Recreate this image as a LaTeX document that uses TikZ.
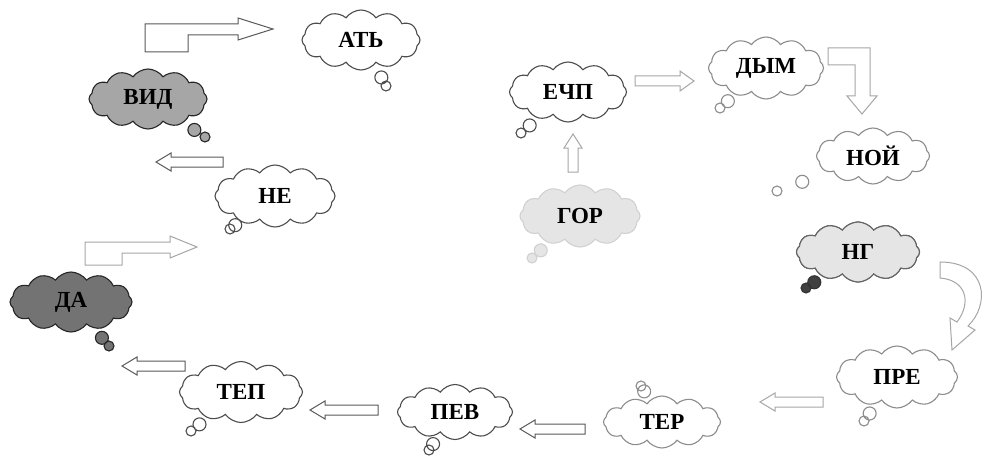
\documentclass[tikz,border=0pt]{standalone}
\usepackage{fontspec}
\setmainfont{Liberation Serif}
\usetikzlibrary{shapes.callouts,shapes.symbols}
\tikzset{
  cloudnode/.style={cloud callout, cloud puffs=12, cloud puff arc=110, aspect=2,
    draw=black!70, line width=1.1pt, fill=white, inner sep=0pt,
    font=\fontsize{23}{26}\selectfont\bfseries, text=black,
    callout pointer segments=2, callout pointer start size=26pt and 16pt, callout pointer end size=15pt and 10pt,
    minimum width=118pt, minimum height=60pt},
  plaincloud/.style={cloud, cloud puffs=12, cloud puff arc=110, aspect=2,
    line width=1.1pt, inner sep=0pt, font=\fontsize{23}{26}\selectfont\bfseries, text=black},
  faint/.style={draw=black!45},
  barrow/.style={draw=black!65, line width=1pt, fill=white, line join=miter},
  barrowfaint/.style={barrow, draw=black!35}
}
\newcommand{\leftblock}[4][barrow]{%
  \draw[#1] ({#3},{#4-5}) -- ({#2+15},{#4-5}) -- ({#2+15},{#4-9}) -- ({#2},{#4}) --
    ({#2+15},{#4+9}) -- ({#2+15},{#4+5}) -- ({#3},{#4+5}) -- cycle;}
\begin{document}
\begin{tikzpicture}[x=1pt,y=-1pt]
\useasboundingbox (0,0) rectangle (986,460);
\fill[white] (0,0) rectangle (986,460);

% clouds
\node[cloudnode, callout absolute pointer={(386,86)}] (atj) at (361,40) {АТЬ};
\node[cloudnode, fill=black!35, draw=black!85, callout absolute pointer={(205,137)}] (vid) at (148,99) {ВИД};
\node[cloudnode, minimum width=120pt, minimum height=62pt, callout absolute pointer={(230,229)}] (ne) at (275,196) {НЕ};
\node[cloudnode, fill=black!55, draw=black!85, minimum width=122pt, callout absolute pointer={(109,346)}] (da) at (71,302) {ДА};
\node[cloudnode, minimum width=123pt, minimum height=61pt, callout absolute pointer={(191,431)}] (tep) at (241,392) {ТЕП};
\node[cloudnode, minimum width=115pt, minimum height=55pt, callout absolute pointer={(429,450)}] (pev) at (455,412) {ПЕВ};
\node[cloudnode, faint, minimum width=117pt, minimum height=52pt, callout absolute pointer={(641,386)}] (ter) at (662,422) {ТЕР};
\node[cloudnode, faint, minimum width=121pt, minimum height=62pt, callout absolute pointer={(864,421)}] (pre) at (897,377) {ПРЕ};
\node[cloudnode, fill=black!75, draw=black!80, minimum width=123pt, callout absolute pointer={(806,288)}] (ngtail) at (858,252) {};
\node[plaincloud, fill=black!10, draw=black!60, minimum width=123pt, minimum height=60pt] (ng) at (858,252) {НГ};
\node[cloudnode, faint, minimum width=113pt, minimum height=56pt, callout absolute pointer={(777,191)}] (noj) at (873,156) {НОЙ};
\node[cloudnode, faint, minimum width=115pt, minimum height=62pt, callout absolute pointer={(720,108)}] (dym) at (766,68) {ДЫМ};
\node[cloudnode, minimum width=117pt, callout absolute pointer={(521,133)}] (echp) at (568,92) {ЕЧП};
\node[cloudnode, fill=black!10, draw=black!18, minimum width=120pt, minimum height=62pt, callout absolute pointer={(532,258)}] (gor) at (580,216) {ГОР};

% bent arrow VID -> ATJ
\draw[barrow] (145,52) -- (188,52) -- (188,35) -- (238,35) -- (238,40) -- (273,29) --
  (238,18) -- (238,24) -- (145,24) -- cycle;
% bent arrow DA -> NE
\draw[barrowfaint] (85,265) -- (122,265) -- (122,253) -- (170,253) -- (170,258) -- (197,247) --
  (170,236) -- (170,242) -- (85,242) -- cycle;
% straight left arrows
\leftblock{156}{223}{162}
\leftblock{122}{185}{366}
\leftblock{310}{378}{410}
\leftblock{520}{585}{429}
\leftblock[barrowfaint]{760}{823}{402}
% ECHP -> DYM
\draw[barrowfaint] (635,76) -- (680,76) -- (680,71) -- (694,81) -- (680,91) -- (680,86) -- (635,86) -- cycle;
% GOR -> ECHP
\draw[barrowfaint] (568,172) -- (568,148) -- (564,148) -- (573,134) -- (582,148) -- (578,148) -- (578,172) -- cycle;
% DYM -> NOJ
\draw[barrowfaint] (828,48) -- (870,48) -- (870,96) -- (877,96) -- (862,114) -- (847,96) --
  (855,96) -- (855,65) -- (828,65) -- cycle;
% NG -> PRE curved
\draw[barrowfaint] (940,262) .. controls (988,262) and (990,305) .. (968,326) -- (975,330) --
  (952,350) -- (950,318) -- (957,322) .. controls (972,302) and (966,280) .. (940,278) -- cycle;
\end{tikzpicture}
\end{document}
